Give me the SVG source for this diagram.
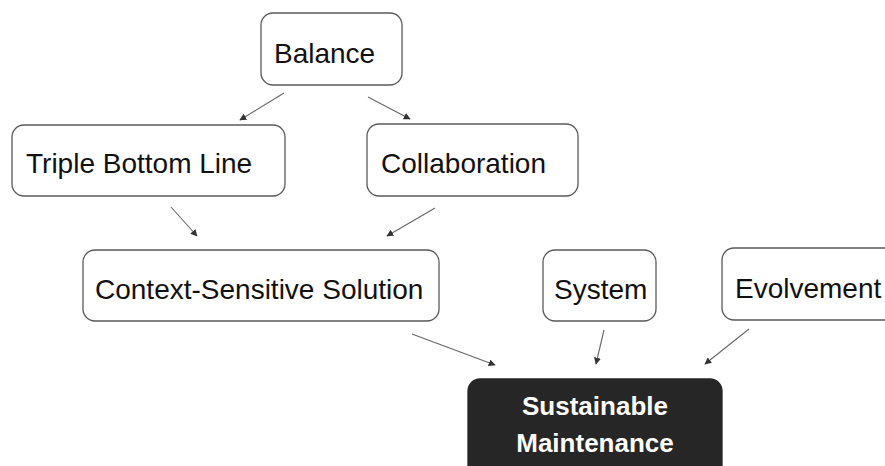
<svg xmlns="http://www.w3.org/2000/svg" width="885" height="466" viewBox="0 0 885 466">
<style>
.box{fill:#fff;stroke:#5a5a5a;stroke-width:1.3}
.dark{fill:#262626;stroke:#262626;stroke-width:1.3}
.lbl{font-family:"Liberation Sans",Arial,sans-serif;font-size:28px;fill:#111}
.wlbl{font-family:"Liberation Sans",Arial,sans-serif;font-size:26px;font-weight:bold;fill:#fff;text-anchor:middle}
.con{stroke:#666;stroke-width:1.1;fill:none;marker-end:url(#ah)}
</style>
<defs>
<marker id="ah" viewBox="0 0 10 10" refX="9" refY="5" markerWidth="7" markerHeight="7" markerUnits="userSpaceOnUse" orient="auto">
<path d="M0,0 L10,5 L0,10 z" fill="#333"/>
</marker>
</defs>
<rect width="885" height="466" fill="#fff"/>
<g id="connectors">
<line class="con" x1="284" y1="93" x2="240" y2="120"/>
<line class="con" x1="368" y1="97" x2="410" y2="119"/>
<line class="con" x1="171" y1="207" x2="197" y2="236"/>
<line class="con" x1="435" y1="208" x2="387" y2="236"/>
<line class="con" x1="412" y1="334" x2="495" y2="365"/>
<line class="con" x1="604" y1="330" x2="596" y2="364"/>
<line class="con" x1="749" y1="329" x2="705" y2="364"/>
</g>
<g id="balance">
<rect class="box" x="261" y="13" width="141" height="72" rx="12"/>
<text class="lbl" x="274" y="63">Balance</text>
</g>
<g id="triple-bottom-line">
<rect class="box" x="12" y="125" width="273" height="71" rx="12"/>
<text class="lbl" x="26" y="173">Triple Bottom Line</text>
</g>
<g id="collaboration">
<rect class="box" x="367" y="124" width="211" height="72" rx="12"/>
<text class="lbl" x="381" y="173">Collaboration</text>
</g>
<g id="context-sensitive-solution">
<rect class="box" x="83" y="250" width="356" height="71" rx="12"/>
<text class="lbl" x="95" y="299">Context-Sensitive Solution</text>
</g>
<g id="system">
<rect class="box" x="543" y="250" width="113" height="71" rx="12"/>
<text class="lbl" x="554" y="299">System</text>
</g>
<g id="evolvement">
<rect class="box" x="722" y="248" width="180" height="72" rx="12"/>
<text class="lbl" x="735" y="298">Evolvement</text>
</g>
<g id="sustainable-maintenance">
<rect class="dark" x="468" y="379" width="254" height="110" rx="12"/>
<text class="wlbl" x="595" y="415">Sustainable</text>
<text class="wlbl" x="595" y="452">Maintenance</text>
</g>
</svg>
